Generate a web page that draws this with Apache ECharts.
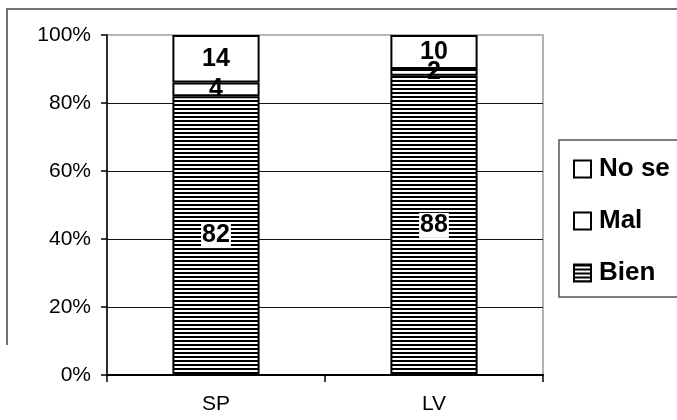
<!DOCTYPE html>
<html>
<head>
<meta charset="utf-8">
<script src="https://cdn.jsdelivr.net/npm/echarts@6/dist/echarts.min.js"></script>
<style>
html,body{margin:0;padding:0;background:#fff;}
#c{width:677px;height:420px;}
</style>
</head>
<body>
<div id="c"></div>
<script>
var categories = ['SP', 'LV'];
var bien = [82, 88];
var mal = [4, 2];
var nose = [14, 10];
var yTicks = [0, 20, 40, 60, 80, 100];

var pc = document.createElement('canvas');
pc.width = 8; pc.height = 4;
var pctx = pc.getContext('2d');
pctx.fillStyle = '#fff'; pctx.fillRect(0, 0, 8, 4);
pctx.fillStyle = '#000'; pctx.fillRect(0, 0, 8, 2);
var hatch = { image: pc, repeat: 'repeat' };

var font = '"Liberation Sans", Arial, sans-serif';
var chart = echarts.init(document.getElementById('c'));

function barSeries(name, data, color, labelBg) {
  return {
    name: name,
    type: 'bar',
    stack: 'total',
    data: data,
    barWidth: '40%',
    itemStyle: { color: color, borderColor: '#000', borderWidth: 2 },
    label: {
      show: true,
      position: 'inside',
      color: '#000',
      fontFamily: font,
      fontSize: 25,
      fontWeight: 'bold',
      backgroundColor: labelBg,
      padding: [0, 1]
    }
  };
}

chart.setOption({
  animation: false,
  backgroundColor: '#fff',
  grid: {
    left: 107, right: 134, top: 35, bottom: 45,
    show: true, borderColor: '#999', borderWidth: 1.5, backgroundColor: 'transparent'
  },
  legend: {
    orient: 'vertical',
    left: 573,
    top: 156,
    padding: 0,
    data: ['No se', 'Mal', 'Bien'],
    itemWidth: 17,
    itemHeight: 17,
    itemGap: 26,
    icon: 'rect',
    selectedMode: false,
    itemStyle: { borderColor: '#000', borderWidth: 2 },
    textStyle: { fontFamily: font, fontSize: 26, fontWeight: 'bold', color: '#000', lineHeight: 26, padding: [0, 0, 0, 3] }
  },
  xAxis: {
    type: 'category',
    data: categories,
    axisLine: { lineStyle: { color: '#000', width: 2 } },
    axisTick: { show: true, length: 7, lineStyle: { color: '#000', width: 1.5 } },
    axisLabel: { color: '#000', fontFamily: font, fontSize: 21, margin: 19 }
  },
  yAxis: {
    type: 'value',
    min: 0, max: 100, interval: 20,
    axisLine: { show: true, lineStyle: { color: '#000', width: 1.5 } },
    axisTick: { show: true, length: 6, lineStyle: { color: '#000', width: 1.5 } },
    axisLabel: {
      color: '#000', fontFamily: font, fontSize: 21, margin: 16,
      formatter: function (v) { return yTicks.indexOf(v) >= 0 ? v + '%' : ''; }
    },
    splitLine: { show: true, lineStyle: { color: ['#111', '#111', '#111', '#111', '#111', '#bbb'], width: 1 } }
  },
  graphic: [
    { type: 'polyline', shape: { points: [[7, 345], [7, 9], [677, 9]] }, style: { stroke: '#444', lineWidth: 1.5, fill: null } },
    { type: 'rect', shape: { x: 559, y: 140, width: 200, height: 157 }, style: { stroke: '#555', lineWidth: 1.5, fill: null } }
  ],
  series: [
    barSeries('Bien', bien, hatch, '#fff'),
    barSeries('Mal', mal, '#fff', 'transparent'),
    barSeries('No se', nose, '#fff', 'transparent')
  ]
});
</script>
</body>
</html>
